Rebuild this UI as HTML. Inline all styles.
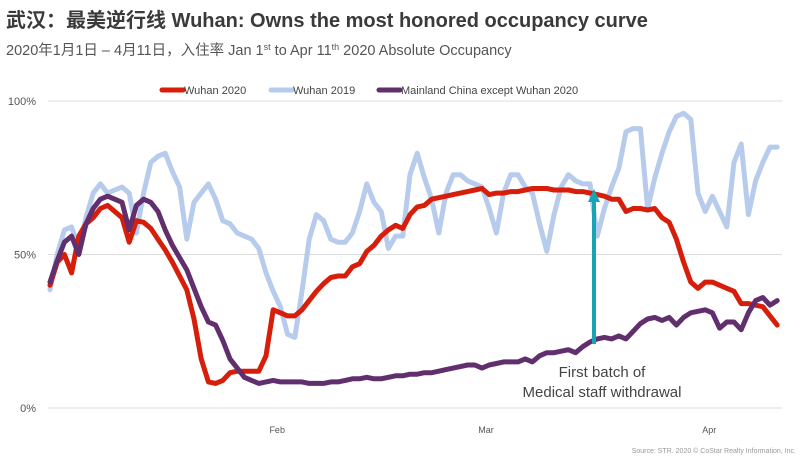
<!DOCTYPE html>
<html><head><meta charset="utf-8"><style>
body{margin:0;background:#fff;width:800px;height:459px;overflow:hidden;font-family:"Liberation Sans","Noto Sans CJK SC",sans-serif;}
svg{display:block}
</style></head><body>
<svg id="chart" width="800" height="459" xmlns="http://www.w3.org/2000/svg" font-family="Liberation Sans, Noto Sans CJK SC, sans-serif">
<text x="6" y="27" font-size="20" font-weight="bold" fill="#3a3a3a">武汉：最美逆行线 Wuhan: Owns the most honored occupancy curve</text>
<text x="6" y="55" font-size="14.5" fill="#555">2020年1月1日 – 4月11日，入住率  Jan 1<tspan font-size="9" dy="-5">st</tspan><tspan dy="5"> to Apr 11</tspan><tspan font-size="9" dy="-5">th</tspan><tspan dy="5"> 2020 Absolute Occupancy</tspan></text>
<g font-size="11" fill="#444">
<g><line x1="162" y1="90" x2="183" y2="90" stroke="#d61e0a" stroke-width="5" stroke-linecap="round"/><text x="184" y="94">Wuhan 2020</text></g>
<g><line x1="271" y1="90" x2="292" y2="90" stroke="#b7cbec" stroke-width="5" stroke-linecap="round"/><text x="293" y="94">Wuhan 2019</text></g>
<g><line x1="379" y1="90" x2="400" y2="90" stroke="#612e6e" stroke-width="5" stroke-linecap="round"/><text x="401" y="94">Mainland China except Wuhan 2020</text></g>
</g>
<g id="grid"></g>
<g id="series"></g>
<g>
<line x1="594" y1="344" x2="594" y2="200" stroke="#1aa3b5" stroke-width="4"/>
<polygon points="588,202 600,202 594,189" fill="#1aa3b5"/>
<text x="602" y="377" font-size="15" fill="#444" text-anchor="middle">First batch of</text>
<text x="602" y="397" font-size="15" fill="#444" text-anchor="middle">Medical staff withdrawal</text>
</g>
<text x="796" y="453" font-size="7" fill="#999" text-anchor="end">Source: STR. 2020 © CoStar Realty Information, Inc.</text>
</svg>
<script>
const yTicks=[0,50,100];
const yTickLabels=["0%","50%","100%"];
const monthLabels=["Feb","Mar","Apr"];
const monthDays=[31,60,91];
const wuhan2020=[40,47.5,50,44,56,60,62,65,66,64,62,54,61,60.5,58.5,55,51.5,47.5,43,38.5,29,16,8.5,8,9,11.5,12,12,12,12,17,32,31,30,30,32,35,38,40.5,42.5,43,43,46,47,51,53,56,58,59.5,58.5,63,65.5,66,68,68.5,69,69.5,70,70.5,71,71.5,69.5,70,70,70.5,70.5,71,71.5,71.5,71.5,71,71,71,70.5,70.5,70,69.5,69,68,68,64,65,65,64.5,65,62,60.5,55,47.5,41,39,41,41,40,39,38,34,34,33.5,33,30,27];
const wuhan2019=[38.5,50,58,59,52,62,70,73,70,71,72,70,57,70,80,82,83,77,72,55,67,70,73,68,61,60,57,56,55,52,44,38,33,24,23,38,55,63,61,55,54,54,57,64,73,67,64,52,56,56,76,83,75,68,57,70,76,76,74,73,72,65,57,70,76,76,72,70,60,51,63,72,76,74,73,73,56,65,72,78,90,91,91,65,75,83,90,95,96,94,70,64,69,64,59,80,86,63,74,80,85,85];
const mainland2020=[41,48,54,56,50,60,65,68,69,68,67,58,66,68,67,64,58,53,49,45,39,33,28,27,22,16,13,10,9,8,8.5,9,8.5,8.5,8.5,8.5,8,8,8,8.5,8.5,9,9.5,9.5,10,9.5,9.5,10,10.5,10.5,11,11,11.5,11.5,12,12.5,13,13.5,14,14,13,14,14.5,15,15,15,16,15,17,18,18,18.5,19,18,20,21.5,22.5,23,22.5,23.5,22.5,25,27.5,29,29.5,28.5,29.5,27,29.5,31,31.5,32,31,26,28,28,25.5,31,35,36,33.5,35];
const NS="http://www.w3.org/2000/svg";
const X=d=>50+d*7.2;
const Y=v=>408-v*3.07;
const grid=document.getElementById('grid');
yTicks.forEach((t,i)=>{
  const l=document.createElementNS(NS,'line');
  
  
  l.setAttribute('x1',48);l.setAttribute('x2',782);l.setAttribute('y1',Y(t));l.setAttribute('y2',Y(t));
  l.setAttribute('stroke','#dcdcdc');l.setAttribute('stroke-width','1');
  grid.appendChild(l);
  const tx=document.createElementNS(NS,'text');
  
  
  tx.setAttribute('x',36);tx.setAttribute('y',Y(t)+4);tx.setAttribute('text-anchor','end');
  tx.setAttribute('font-size','11');tx.setAttribute('fill','#555');
  tx.textContent=yTickLabels[i];grid.appendChild(tx);
});
monthLabels.forEach((m,i)=>{
  const tx=document.createElementNS(NS,'text');
  
  
  tx.setAttribute('x',X(monthDays[i])+4);tx.setAttribute('y',433);tx.setAttribute('text-anchor','middle');
  tx.setAttribute('font-size','9');tx.setAttribute('fill','#555');
  tx.textContent=m;grid.appendChild(tx);
});
const g=document.getElementById('series');
function draw(data,color,name){
  const p=document.createElementNS(NS,'polyline');
  
  
  p.setAttribute('points',data.map((v,d)=>X(d).toFixed(1)+','+Y(v).toFixed(1)).join(' '));
  p.setAttribute('fill','none');p.setAttribute('stroke',color);p.setAttribute('stroke-width','5');
  p.setAttribute('stroke-linejoin','round');p.setAttribute('stroke-linecap','round');
  g.appendChild(p);
}
draw(wuhan2019,'#b7cbec','line-wuhan-2019');
draw(wuhan2020,'#d61e0a','line-wuhan-2020');
draw(mainland2020,'#612e6e','line-mainland-china-2020');
</script>
</body></html>
